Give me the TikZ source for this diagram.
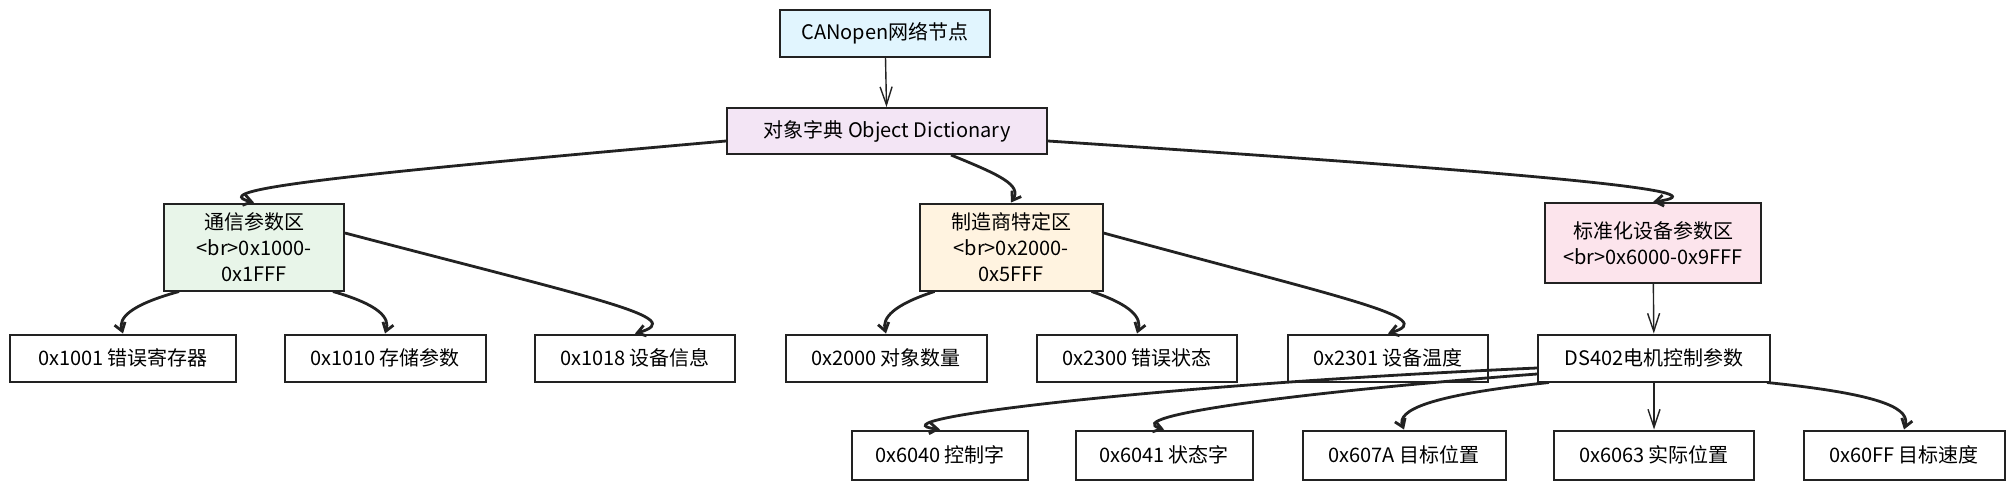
\documentclass[tikz,border=0pt]{standalone}
\usepackage{fontspec}
\setmainfont{Noto Sans CJK SC}
\definecolor{netblue}{RGB}{225,245,254}
\definecolor{dictpurple}{RGB}{243,229,245}
\definecolor{commgreen}{RGB}{232,245,233}
\definecolor{mfrorange}{RGB}{255,243,224}
\definecolor{stdpink}{RGB}{252,228,236}
\definecolor{inkgray}{RGB}{34,34,34}
\usetikzlibrary{arrows.meta}

\begin{document}
\begin{tikzpicture}[x=0.5pt, y=-0.5pt, font=\fontsize{10}{13}\selectfont,
  box/.style={draw=inkgray, line width=1pt, fill=white, align=center, inner sep=0pt, minimum height=23.5pt},
  link/.style={line width=1.4pt, inkgray, -{Straight Barb[length=4pt,width=5.5pt]}},
  drop/.style={line width=0.7pt, inkgray, -{Straight Barb[length=9pt,width=6pt]}}]
  \useasboundingbox (0,0) rectangle (2015,489);

  \node[box, fill=netblue, minimum width=105pt] (net) at (885,33) {CANopen网络节点};
  \node[box, fill=dictpurple, minimum width=160pt, minimum height=23pt] (od) at (887,131) {对象字典 Object Dictionary};

  \node[box, fill=commgreen, minimum width=90pt, minimum height=43.5pt] (comm) at (254,247) {通信参数区\\<br>0x1000-\\0x1FFF};
  \node[box, fill=mfrorange, minimum width=91.5pt, minimum height=43.5pt] (mfr) at (1011,247) {制造商特定区\\<br>0x2000-\\0x5FFF};
  \node[box, fill=stdpink, minimum width=108pt, minimum height=40pt] (std) at (1653,243) {标准化设备参数区\\<br>0x6000-0x9FFF};

  \node[box, minimum width=113pt] (e1001) at (123,358) {0x1001 错误寄存器};
  \node[box, minimum width=100.5pt] (e1010) at (385,358) {0x1010 存储参数};
  \node[box, minimum width=100pt] (e1018) at (635,358) {0x1018 设备信息};
  \node[box, minimum width=100.5pt] (e2000) at (886,358) {0x2000 对象数量};
  \node[box, minimum width=100pt] (e2300) at (1137,358) {0x2300 错误状态};
  \node[box, minimum width=100pt] (e2301) at (1388,358) {0x2301 设备温度};
  \node[box, minimum width=116pt] (ds402) at (1654,358) {DS402电机控制参数};

  \node[box, minimum width=88pt, minimum height=24.5pt] (e6040) at (940,455) {0x6040 控制字};
  \node[box, minimum width=88.5pt, minimum height=24.5pt] (e6041) at (1164,455) {0x6041 状态字};
  \node[box, minimum width=101.5pt, minimum height=24.5pt] (e607a) at (1404,455) {0x607A 目标位置};
  \node[box, minimum width=100pt, minimum height=24.5pt] (e6063) at (1654,455) {0x6063 实际位置};
  \node[box, minimum width=100.5pt, minimum height=24.5pt] (e60ff) at (1904,455) {0x60FF 目标速度};

  \draw[drop] (net) -- (od);
  \draw[link] ([yshift=-5pt]od.west) .. controls (330,176) and (205,190) .. (comm.north);
  \draw[link] ([xshift=32pt]od.south) .. controls (1000,175) and (1022,185) .. (mfr.north);
  \draw[link] ([yshift=-5pt]od.east) .. controls (1580,176) and (1725,192) .. (std.north);

  \draw[link] ([xshift=8pt]comm.south west) .. controls (130,305) and (118,318) .. (e1001.north);
  \draw[link] ([xshift=-6pt]comm.south east) .. controls (380,305) and (390,318) .. (e1010.north);
  \draw[link] ([yshift=7pt]comm.east) .. controls (600,300) and (690,318) .. (e1018.north);

  \draw[link] ([xshift=8pt]mfr.south west) .. controls (893,305) and (882,318) .. (e2000.north);
  \draw[link] ([xshift=-6pt]mfr.south east) .. controls (1132,305) and (1142,318) .. (e2300.north);
  \draw[link] ([yshift=7pt]mfr.east) .. controls (1350,300) and (1440,318) .. (e2301.north);

  \draw[drop] (std) -- (ds402);

  \draw[link] ([yshift=-5pt]ds402.west) .. controls (1150,385) and (865,420) .. (e6040.north);
  \draw[link] ([yshift=-8pt]ds402.west) .. controls (1300,392) and (1118,416) .. (e6041.north);
  \draw[link] ([xshift=6pt]ds402.south west) .. controls (1430,395) and (1396,410) .. (e607a.north);
  \draw[drop] (ds402) -- (e6063);
  \draw[link] ([xshift=-2pt]ds402.south east) .. controls (1890,395) and (1910,410) .. (e60ff.north);
\end{tikzpicture}
\end{document}
